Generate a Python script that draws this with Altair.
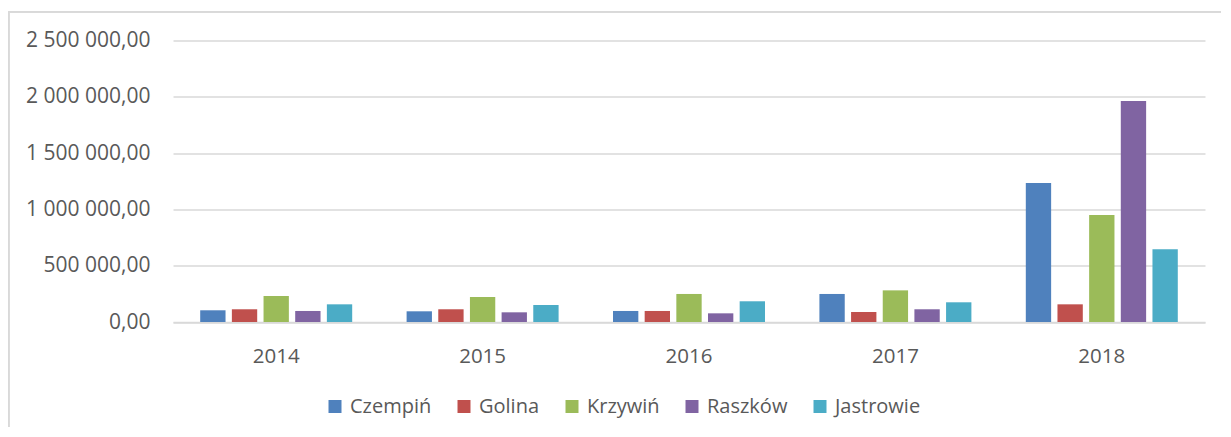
import altair as alt
import pandas as pd

years = ["2014", "2015", "2016", "2017", "2018"]
series = ["Czempiń", "Golina", "Krzywiń", "Raszków", "Jastrowie"]
colors = ["#4F81BD", "#C0504D", "#9BBB59", "#8064A2", "#4BACC6"]

czempin = [104000, 95000, 98000, 249000, 1234000]
golina = [113000, 113000, 98000, 89000, 157000]
krzywin = [231000, 222000, 249000, 281000, 950000]
raszkow = [98000, 86000, 77000, 113000, 1962000]
jastrowie = [157000, 151000, 184000, 175000, 645000]

values = [czempin, golina, krzywin, raszkow, jastrowie]
rows = []
for s, vals in zip(series, values):
    for y, v in zip(years, vals):
        rows.append({"rok": y, "gmina": s, "wartosc": v})
df = pd.DataFrame(rows)

FONT = "Open Sans"
GRAY = "#d9d9d9"
TEXT = "#595959"

bars = alt.Chart(df).mark_bar().encode(
    x=alt.X("rok:N", sort=years, title=None,
            scale=alt.Scale(paddingInner=0.2636, paddingOuter=0.1318),
            axis=alt.Axis(labelAngle=0, ticks=False, tickSize=0, labelPadding=24,
                          domainColor=GRAY, domainWidth=1.3, labelFontSize=20.5,
                          labelColor=TEXT, labelFont=FONT, grid=False)),
    xOffset=alt.XOffset("gmina:N", sort=series,
                        scale=alt.Scale(paddingInner=0.2, paddingOuter=0)),
    y=alt.Y("wartosc:Q", title=None,
            scale=alt.Scale(domain=[0, 2500000], nice=False),
            axis=alt.Axis(values=[0, 500000, 1000000, 1500000, 2000000, 2500000],
                          format=",.2f", domain=False, ticks=False, tickSize=0,
                          labelPadding=23, labelFontSize=21, labelColor=TEXT,
                          labelFont=FONT, gridColor=GRAY, gridWidth=1.3)),
    color=alt.Color("gmina:N", sort=series,
                    scale=alt.Scale(domain=series, range=colors),
                    legend=alt.Legend(title=None, orient="none", direction="horizontal",
                                      legendX=152, legendY=356, symbolType="square",
                                      symbolSize=169, symbolStrokeWidth=0,
                                      labelFontSize=20, labelFont=FONT,
                                      labelColor=TEXT, labelOffset=5,
                                      columnPadding=22, padding=0)),
)

border_top = alt.Chart(df).mark_rule(color=GRAY, strokeWidth=1.5).encode(
    x=alt.value(-164.5), x2=alt.value(1100), y=alt.value(-28.8)
)
border_left = alt.Chart(df).mark_rule(color=GRAY, strokeWidth=1.5).encode(
    x=alt.value(-164.5), y=alt.value(-28.8), y2=alt.value(400)
)

chart = alt.layer(bars, border_top, border_left).properties(
    width=1032, height=281.5,
    autosize=alt.AutoSizeParams(type="none"),
    padding={"left": 165, "top": 32.5, "right": 16, "bottom": 105},
).configure(
    locale={"number": {"decimal": ",", "thousands": " ", "grouping": [3],
                       "currency": ["", " zł"]}}
).configure_view(stroke=None)

chart.save("out.html", embed_options={"renderer": "svg", "actions": False})
